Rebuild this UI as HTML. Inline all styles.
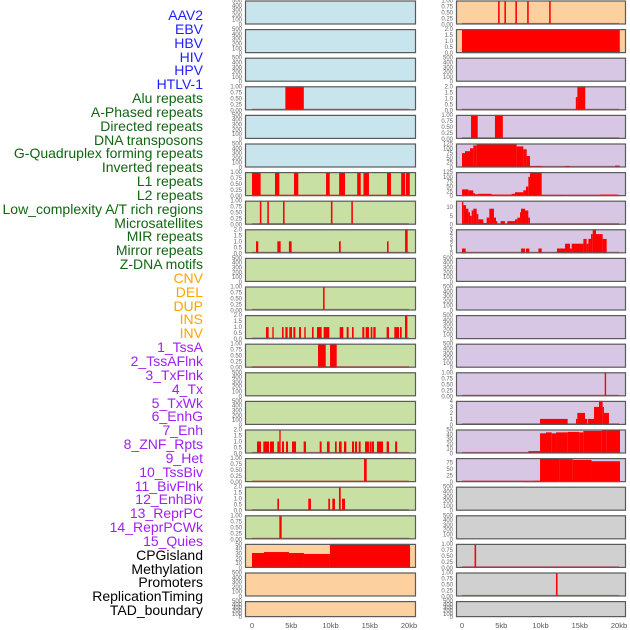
<!DOCTYPE html>
<html><head><meta charset="utf-8">
<style>
html,body{margin:0;padding:0;background:#fff;}
body{width:630px;height:630px;overflow:hidden;position:relative;font-family:"Liberation Sans",sans-serif;}
#labels{position:absolute;left:0;top:0;width:203px;}
.lab{position:absolute;right:0;font-size:14px;line-height:14px;white-space:nowrap;text-align:right;}
svg{position:absolute;left:0;top:0;}
</style></head>
<body>
<div id="labels"></div>
<svg id="chart" width="630" height="630"></svg>
<script>
const trackLabels = ["AAV2","EBV","HBV","HIV","HPV","HTLV-1","Alu repeats","A-Phased repeats","Directed repeats","DNA transposons","G-Quadruplex forming repeats","Inverted repeats","L1 repeats","L2 repeats","Low_complexity A/T rich regions","Microsatellites","MIR repeats","Mirror repeats","Z-DNA motifs","CNV","DEL","DUP","INS","INV","1_TssA","2_TssAFlnk","3_TxFlnk","4_Tx","5_TxWk","6_EnhG","7_Enh","8_ZNF_Rpts","9_Het","10_TssBiv","11_BivFlnk","12_EnhBiv","13_ReprPC","14_ReprPCWk","15_Quies","CPGisland","Methylation","Promoters","ReplicationTiming","TAD_boundary"];
const labelColors = ["#1f1fff","#1f1fff","#1f1fff","#1f1fff","#1f1fff","#1f1fff","#116611","#116611","#116611","#116611","#116611","#116611","#116611","#116611","#116611","#116611","#116611","#116611","#116611","#ffa500","#ffa500","#ffa500","#ffa500","#ffa500","#a020f0","#a020f0","#a020f0","#a020f0","#a020f0","#a020f0","#a020f0","#a020f0","#a020f0","#a020f0","#a020f0","#a020f0","#a020f0","#a020f0","#a020f0","#000","#000","#000","#000","#000"];
// panel order: row by row, left then right
const panelBg = ["b","p","b","p","b","u","b","u","b","u","b","u","g","u","g","u","g","u","g","u","g","u","g","u","g","u","g","u","g","u","g","u","g","u","g","r","g","r","p","r","p","r","p","r"];
const panelScale = ["e","1","e","2","e","e","1","2","e","1","e","125","1","125","1","10","2","5","e","e","1","e","2","e","1","e","e","1","e","4","2","50","1","90","2","e","1","e","50","1","e","1","e","e"];
const panelSegments = [
 [],
 [[4.6,4.8,1],[5.4,5.6,1],[6.8,7.0,1],[8.3,8.5,1],[11.1,11.3,1]],
 [],
 [[0,20.1,2]],
 [],[],
 [[4.25,6.6,1]],
 [[14.5,14.7,1.1],[14.7,15.7,2]],
 [],
 [[1.15,2.0,1],[4.2,5.2,1]],
 [],
 [[0,0.38,75],[0.38,1.02,85],[1.02,1.44,100],[1.44,1.87,115],[1.87,6.96,125],[6.96,7.81,110],[7.81,8.24,95],[8.24,8.66,60],[8.66,10.15,8],[13.12,13.76,8],[19.5,20.1,10]],
 [[0,1.1,1],[2.93,3.48,1],[5.35,5.9,1],[9.43,9.9,1],[11.1,11.85,1],[13.4,13.85,1],[14.2,14.9,1],[17.2,17.7,1],[19.0,19.5,1],[19.6,20.1,1]],
 [[0,0.81,35],[0.81,1.44,30],[1.44,1.66,15],[1.66,2.08,10],[2.08,3.78,12],[3.78,6.33,8],[6.33,6.75,12],[6.75,7.81,20],[7.81,8.15,30],[8.15,8.45,50],[8.45,8.66,100],[8.66,10.15,125],[10.15,13.34,5],[13.55,17.58,5],[17.58,19.7,8],[19.7,20.1,5]],
 [[1.0,1.2,1],[1.95,2.15,1],[3.95,4.15,1],[10.05,10.25,1],[12.65,12.85,1]],
 [[0,0.17,13],[0.17,0.51,11],[0.51,0.81,9],[0.81,1.02,7],[1.02,1.23,5],[1.23,1.44,8],[1.44,1.87,9],[1.87,2.08,6],[2.08,2.72,3],[2.72,3.14,1],[3.14,3.48,4],[3.48,4.07,9],[4.07,4.33,4],[4.33,4.5,2],[4.5,4.92,0.5],[4.92,5.47,2],[5.47,5.77,0.5],[5.77,6.75,2],[6.75,7.05,3],[7.05,7.39,4],[7.39,7.52,7],[7.52,8.03,9],[8.03,8.45,8],[8.45,8.66,4],[8.66,20.1,0.3]],
 [[0.51,0.8,1],[3.23,3.65,1],[4.7,5.05,1],[11.08,11.3,1],[17.2,17.4,1],[19.5,19.83,2]],
 [[0,0.47,1],[7.52,8.03,1],[8.15,8.58,1],[9.73,10.15,1],[12.1,13.13,1],[13.13,13.76,2],[13.76,13.97,1],[13.97,15.46,2],[15.46,15.88,3],[15.88,16.1,2],[16.1,16.43,3],[16.43,16.65,4],[16.65,17.07,5],[17.07,17.92,4],[17.92,18.43,3]],
 [],[],
 [[9.05,9.25,1]],
 [],
 [[1.78,2.12,1],[2.59,2.76,1],[3.82,4.03,1],[4.25,4.54,1],[4.75,5.09,1],[5.27,5.52,1],[5.99,6.24,1],[6.66,6.84,1],[7.64,7.85,1],[8.28,8.87,1],[9.13,9.85,1],[11.17,11.63,1],[12.06,12.31,1],[12.74,12.95,1],[14.05,14.31,1],[14.48,14.9,1],[15.12,15.33,1],[15.46,15.75,1],[17.15,17.45,1],[18.13,18.73,1],[18.85,19.07,1],[19.49,19.79,2]],
 [],
 [[8.41,9.39,1],[9.94,10.79,1]],
 [],[],
 [[18.18,18.36,1]],
 [],
 [[9.94,13.46,1],[14.52,14.69,1],[14.69,15.67,2],[15.67,15.96,1],[16.05,16.82,1],[16.82,17.45,3],[17.45,17.92,4],[17.92,18.09,3],[18.09,18.72,2]],
 [[0.64,1.15,1],[1.44,2.17,1],[2.29,2.8,1],[3.23,3.48,1],[3.48,3.65,2],[3.82,4.08,1],[4.33,4.59,1],[5.1,5.61,1],[6.58,6.88,1],[8.62,8.87,1],[9.55,9.89,1],[10.57,10.79,1],[11.08,11.42,1],[11.72,12.02,1],[12.74,13.0,1],[13.12,13.38,1],[13.59,13.84,1],[14.4,14.9,1],[14.99,15.24,1],[15.29,15.54,1],[15.92,16.69,1],[17.15,17.45,1],[18.23,18.49,1]],
 [[0.08,8.45,2],[8.45,9.94,5],[9.94,10.7,42],[10.7,11.43,44],[11.43,11.98,42],[11.98,13.46,44],[13.46,14.95,45],[14.95,15.46,44],[15.46,17.79,47],[17.79,18.43,48],[18.43,20.13,50]],
 [[14.27,14.61,1]],
 [[7.81,9.3,3],[9.3,9.94,5],[9.94,12.4,90],[12.4,14.1,88],[14.1,16.5,85],[16.5,20.13,80]],
 [[3.23,3.44,1],[7.17,7.51,1],[9.72,9.94,1],[10.23,10.57,1],[11.08,11.3,2],[11.47,11.85,1]],
 [],
 [[3.48,3.78,1]],
 [],
 [[0,1.53,31],[1.53,4.71,33],[4.71,6.62,31],[6.62,9.93,29],[9.93,20.13,50]],
 [[1.6,1.8,1]],
 [],
 [[11.97,12.17,1]],
 [],[]
];
const scaleMax = {e:500,"1":1,"2":2,"125":125,"10":13.5,"5":5,"4":4,"50":50,"90":92};
const scaleTicks = {
 e:["0","100","200","300","400","500"],
 "1":["0.00","0.25","0.50","0.75","1.00"],
 "2":["0.0","0.5","1.0","1.5","2.0"],
 "125":["0","25","50","75","100","125"],
 "10":["0","5","10"],
 "5":["0","1","2","3","4","5"],
 "4":["0","1","2","3","4"],
 "50":["0","10","20","30","40","50"],
 "90":["0","25","50","75"]
};
const xTickValues = [0,5,10,15,20];
const xTickLabels = ["0","5kb","10kb","15kb","20kb"];

const bgColors = {b:"#c8e4ec",g:"#c8e0a4",p:"#fdd0a0",u:"#d7c7e4",r:"#d0d0d0"};
const NS="http://www.w3.org/2000/svg";
const svg=document.getElementById("chart");
function mk(tag,attrs){const e=document.createElementNS(NS,tag);for(const k in attrs)e.setAttribute(k,attrs[k]);return e;}

// labels
const labDiv=document.getElementById("labels");
trackLabels.forEach((t,i)=>{
  const d=document.createElement("div");
  d.className="lab";
  d.style.top=(8+i*13.84)+"px";
  d.style.color=labelColors[i];
  d.textContent=t;
  
  
  labDiv.appendChild(d);
});

const cols=[{bx:245,bw:171,x0:252,tx:242},{bx:456,bw:170,x0:462,tx:453}];
const kbPx=7.85;
function xScale(col,kb){return cols[col].x0+kb*kbPx;}

for(let i=0;i<44;i++){
  const row=Math.floor(i/2), col=i%2;
  const top=0.5+row*28.6, h=(row===21?16:24);
  const c=cols[col];
  const g=mk("g",{});
  
  
  svg.appendChild(g);
  g.appendChild(mk("rect",{x:c.bx,y:top,width:c.bw,height:h,fill:bgColors[panelBg[i]]}));
  const sc=panelScale[i], mx=scaleMax[sc];
  const yScale=v=>top+h-v/mx*h;
  const segs=panelSegments[i];
  if(segs.length){
    const bl=mk("line",{x1:xScale(col,0),x2:xScale(col,20),y1:top+h-0.8,y2:top+h-0.8,stroke:"#c04848","stroke-width":1.6,"stroke-opacity":0.8});
    
    
    g.appendChild(bl);
  }
  segs.forEach(s=>{
    const x1=xScale(col,s[0]), x2=xScale(col,s[1]);
    const y=yScale(Math.min(s[2],mx));
    const r=mk("rect",{x:x1,y:y,width:Math.max(1.2,x2-x1),height:top+h-y,fill:"#ff0000"});
    
    
    g.appendChild(r);
  });
  g.appendChild(mk("rect",{x:c.bx+0.5,y:top+0.5,width:c.bw-1,height:h-1,fill:"none",stroke:"#5a5a5a","stroke-width":1.2}));
  // y ticks
  const ticks=scaleTicks[sc];
  ticks.forEach(t=>{
    const v=parseFloat(t);
    const tx=mk("text",{x:c.tx,y:yScale(v)+2,"font-size":6,"text-anchor":"end",fill:"#666","font-family":"Liberation Sans, sans-serif"});
    tx.textContent=t;
    
    
    g.appendChild(tx);
  });
}
// x axis
for(let col=0;col<2;col++){
  xTickValues.forEach((v,k)=>{
    const tx=mk("text",{x:xScale(col,v),y:628,"font-size":7.5,"text-anchor":"middle",fill:"#555","font-family":"Liberation Sans, sans-serif"});
    tx.textContent=xTickLabels[k];
    
    
    svg.appendChild(tx);
  });
}
</script>
</body></html>
